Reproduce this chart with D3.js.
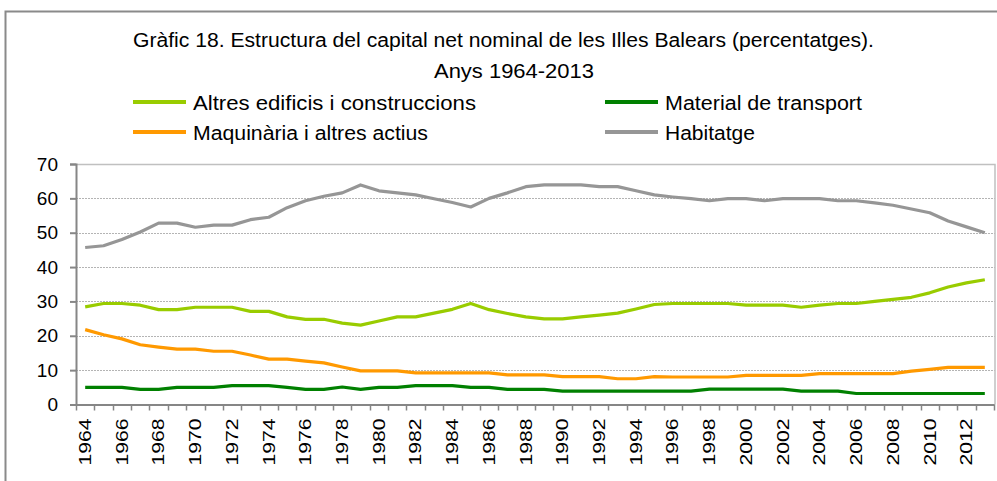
<!DOCTYPE html>
<html>
<head>
<meta charset="utf-8">
<script src="https://cdn.jsdelivr.net/npm/d3@7/dist/d3.min.js"></script>
<style>
  html, body { margin: 0; padding: 0; background: #fff; }
  #chart { width: 997px; height: 481px; overflow: hidden; }
  text { font-family: Arial, "Liberation Sans", sans-serif; fill: #000; }
</style>
</head>
<body>
<div id="chart"></div>
<script>
const years = [1964, 1965, 1966, 1967, 1968, 1969, 1970, 1971, 1972, 1973,
  1974, 1975, 1976, 1977, 1978, 1979, 1980, 1981, 1982, 1983,
  1984, 1985, 1986, 1987, 1988, 1989, 1990, 1991, 1992, 1993,
  1994, 1995, 1996, 1997, 1998, 1999, 2000, 2001, 2002, 2003,
  2004, 2005, 2006, 2007, 2008, 2009, 2010, 2011, 2012, 2013];
const yTicks = [0, 10, 20, 30, 40, 50, 60, 70];
const xTickLabels = years.filter((y) => y % 2 === 0);

// Altres edificis i construccions
const altresEdificis = [28.4, 29.4, 29.4, 28.9, 27.6, 27.6, 28.3, 28.3, 28.3, 27.1,
  27.1, 25.5, 24.8, 24.8, 23.7, 23.1, 24.3, 25.5, 25.5, 26.6,
  27.7, 29.4, 27.6, 26.5, 25.5, 24.9, 24.9, 25.5, 26.0, 26.6,
  27.8, 29.1, 29.4, 29.4, 29.4, 29.4, 28.9, 28.9, 28.9, 28.3,
  28.9, 29.4, 29.4, 30.0, 30.6, 31.2, 32.5, 34.2, 35.4, 36.3];
// Material de transport
const materialTransport = [5.0, 5.0, 5.0, 4.4, 4.4, 5.0, 5.0, 5.0, 5.5, 5.5,
  5.5, 5.0, 4.4, 4.4, 5.1, 4.4, 5.0, 5.0, 5.5, 5.5,
  5.5, 5.0, 5.0, 4.4, 4.4, 4.4, 3.9, 3.9, 3.9, 3.9,
  3.9, 3.9, 3.9, 3.9, 4.5, 4.5, 4.5, 4.5, 4.5, 3.9,
  3.9, 3.9, 3.2, 3.2, 3.2, 3.2, 3.2, 3.2, 3.2, 3.2];
// Maquinària i altres actius
const maquinaria = [21.8, 20.3, 19.1, 17.4, 16.7, 16.1, 16.1, 15.5, 15.5, 14.4,
  13.2, 13.2, 12.6, 12.1, 10.9, 9.8, 9.8, 9.8, 9.2, 9.2,
  9.2, 9.2, 9.2, 8.6, 8.6, 8.6, 8.1, 8.1, 8.1, 7.5,
  7.5, 8.1, 8.0, 8.0, 8.0, 8.0, 8.5, 8.5, 8.5, 8.5,
  9.0, 9.0, 9.0, 9.0, 9.0, 9.7, 10.2, 10.8, 10.8, 10.8];
// Habitatge
const habitatge = [45.7, 46.2, 48.0, 50.2, 52.8, 52.8, 51.6, 52.2, 52.2, 53.8,
  54.5, 57.3, 59.3, 60.6, 61.6, 63.9, 62.2, 61.6, 61.0, 59.9,
  58.8, 57.5, 60.0, 61.6, 63.4, 63.9, 63.9, 63.9, 63.4, 63.4,
  62.2, 61.0, 60.4, 59.9, 59.3, 59.9, 59.9, 59.3, 59.9, 59.9,
  59.9, 59.3, 59.3, 58.7, 58.0, 56.9, 55.8, 53.4, 51.7, 50.0];

const seriesNames = ["Altres edificis i construccions", "Material de transport",
  "Maquinària i altres actius", "Habitatge"];
const seriesColors = ["#99cc00", "#008000", "#ff9900", "#969696"];
const seriesValues = [altresEdificis, materialTransport, maquinaria, habitatge];

const width = 997, height = 481;
const plot = { left: 76, right: 995, top: 164, bottom: 404.5 };

let svg;

const initSvg = () => {
  svg = d3.select("#chart").append("svg")
    .attr("width", width)
    .attr("height", height);
  // outer chart frame (right/bottom edges fall outside the crop)
  svg.append("rect")
    .attr("x", 5.5).attr("y", 11.5)
    .attr("width", 1100).attr("height", 600)
    .attr("fill", "#fff")
    .attr("stroke", "#8a8a8a")
    .attr("stroke-width", 2);
};

const drawTitle = () => {
  svg.append("text")
    .attr("x", 133).attr("y", 47)
    .attr("font-size", 20)
    .attr("textLength", 741)
    .attr("lengthAdjust", "spacingAndGlyphs")
    .text("Gràfic 18. Estructura del capital net nominal de les Illes Balears (percentatges).");
  svg.append("text")
    .attr("x", 434).attr("y", 78)
    .attr("font-size", 20)
    .attr("textLength", 160)
    .attr("lengthAdjust", "spacingAndGlyphs")
    .text("Anys 1964-2013");
};

const drawLegend = () => {
  const pos = [
    { x: 133, y: 102, w: 283 },
    { x: 605, y: 102, w: 197 },
    { x: 133, y: 132, w: 235 },
    { x: 605, y: 132, w: 90 }
  ];
  const items = svg.append("g").selectAll("g")
    .data(seriesNames)
    .join("g")
    .attr("transform", (d, i) => `translate(${pos[i].x},${pos[i].y})`);
  items.append("line")
    .attr("x1", 0).attr("x2", 53)
    .attr("stroke", (d, i) => seriesColors[i])
    .attr("stroke-width", 4);
  items.append("text")
    .attr("x", 60).attr("y", 8)
    .attr("font-size", 20)
    .attr("textLength", (d, i) => pos[i].w)
    .attr("lengthAdjust", "spacingAndGlyphs")
    .text((d) => d);
};

const drawScales = () => {
  const xScale = d3.scaleBand()
    .domain(years)
    .range([plot.left, plot.right - 1]);
  const yScale = d3.scaleLinear()
    .domain([0, 70])
    .range([plot.bottom, plot.top]);

  // gridlines
  svg.append("g").selectAll("line")
    .data(yTicks.filter((t) => t > 0 && t < 70))
    .join("line")
    .attr("x1", plot.left).attr("x2", plot.right)
    .attr("y1", (d) => Math.round(yScale(d)) + 0.5)
    .attr("y2", (d) => Math.round(yScale(d)) + 0.5)
    .attr("stroke", "#b4b4b4")
    .attr("stroke-dasharray", "2,1");

  // plot border top / right
  svg.append("path")
    .attr("d", `M${plot.left},${plot.top + 0.5}H${plot.right}V${plot.bottom}`)
    .attr("fill", "none")
    .attr("stroke", "#c0c0c0")
    .attr("stroke-width", 1.5);

  // y axis
  const yAxis = svg.append("g")
    .attr("transform", `translate(${plot.left},0)`)
    .call(d3.axisLeft(yScale).tickValues(yTicks).tickSize(6).tickPadding(12));
  yAxis.selectAll("path, line").attr("stroke", "#868686").attr("stroke-width", 2);
  yAxis.selectAll("text")
    .attr("font-size", 19)
    .attr("font-family", "Arial, 'Liberation Sans', sans-serif")
    .attr("fill", "#000");

  // x axis: labels for even years, ticks on band boundaries
  const xAxis = svg.append("g")
    .attr("transform", `translate(0,${plot.bottom})`)
    .call(d3.axisBottom(xScale).tickValues(xTickLabels).tickSize(0).tickPadding(0));
  xAxis.select(".domain").attr("stroke", "#868686").attr("stroke-width", 2);
  xAxis.selectAll("text")
    .attr("font-size", 16)
    .attr("font-family", "Arial, 'Liberation Sans', sans-serif")
    .attr("fill", "#000")
    .attr("textLength", 47)
    .attr("lengthAdjust", "spacingAndGlyphs")
    .attr("text-anchor", "end")
    .attr("transform", "rotate(-90)")
    .attr("x", -14)
    .attr("y", 0)
    .attr("dy", "0.36em");
  svg.append("g").selectAll("line")
    .data(years.map((y) => xScale(y)).concat([xScale.range()[1]]))
    .join("line")
    .attr("x1", (d) => Math.round(d) + 0.5)
    .attr("x2", (d) => Math.round(d) + 0.5)
    .attr("y1", plot.bottom)
    .attr("y2", plot.bottom + 6)
    .attr("stroke", "#868686")
    .attr("stroke-width", 1.5);

  return { xScale, yScale };
};

const drawLines = (xScale, yScale) => {
  const half = xScale.bandwidth() / 2;
  const line = d3.line()
    .x((d, i) => xScale(years[i]) + half)
    .y((d) => yScale(d));
  svg.append("g").selectAll("path")
    .data(seriesValues)
    .join("path")
    .attr("d", (d) => line(d))
    .attr("fill", "none")
    .attr("stroke", (d, i) => seriesColors[i])
    .attr("stroke-width", 3.2)
    .attr("stroke-linejoin", "round");
};

initSvg();
drawTitle();
drawLegend();
const { xScale, yScale } = drawScales();
drawLines(xScale, yScale);
</script>
</body>
</html>
